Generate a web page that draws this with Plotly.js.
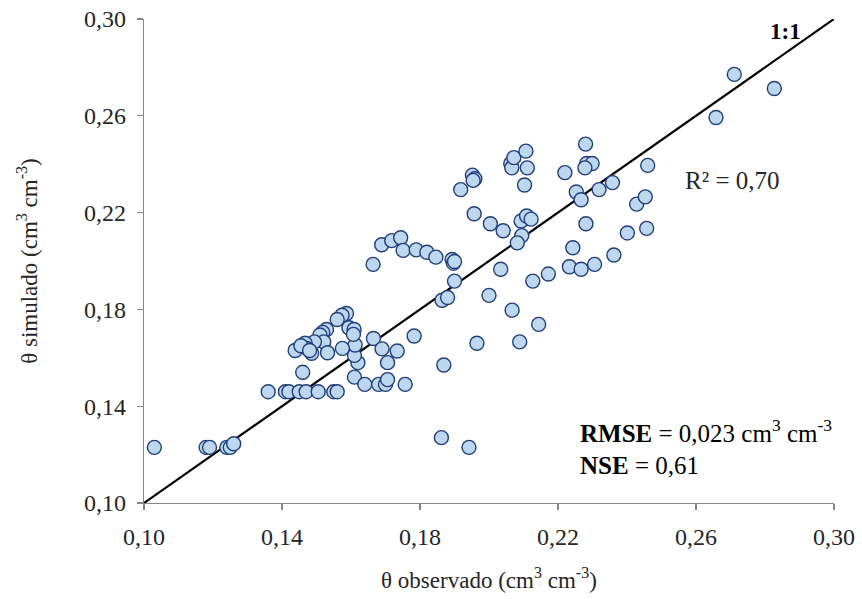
<!DOCTYPE html>
<html>
<head>
<meta charset="utf-8">
<script src="https://cdn.plot.ly/plotly-3.0.1.min.js"></script>
<style>html,body{margin:0;padding:0;background:#fff;}#chart{width:862px;height:599px;}</style>
</head>
<body>
<div id="chart"></div>
<script>
// Observed (x) and simulated (y) soil water content, cm3 cm-3
const observado = [
  0.103, 0.118, 0.119, 0.124, 0.125, 0.126,
  0.136, 0.141, 0.142, 0.145, 0.147, 0.1505, 0.155, 0.156,
  0.146, 0.161, 0.164, 0.168, 0.170, 0.1757, 0.1706,
  0.162, 0.1706, 0.161, 0.1869, 0.1862, 0.1942, 0.1965, 0.2089,
  0.1783, 0.1665, 0.169, 0.1734, 0.1612, 0.1575,
  0.1587, 0.1574, 0.1560, 0.1529, 0.1518, 0.1594, 0.1609, 0.1607, 0.1510,
  0.1521, 0.1494, 0.1467, 0.1472, 0.1438, 0.1486, 0.1532, 0.1455, 0.1480,
  0.1664, 0.1689, 0.1718, 0.1744, 0.1751, 0.1789, 0.1820, 0.1846, 0.1893, 0.1897, 0.1900,
  0.1900, 0.1864, 0.1880, 0.2000, 0.2067, 0.2144,
  0.1918, 0.1952, 0.1959, 0.1954,
  0.2063, 0.2066, 0.2072, 0.2107, 0.2111, 0.2103,
  0.1957, 0.2004, 0.2041, 0.2093, 0.2109, 0.2122, 0.2095, 0.2082,
  0.2034, 0.2127, 0.2172,
  0.2233, 0.2267, 0.2306, 0.2362, 0.2243,
  0.2281, 0.2401, 0.2428, 0.2453, 0.2457, 0.2460,
  0.2253, 0.2267, 0.2319, 0.2358,
  0.2220, 0.2280, 0.2283, 0.2299, 0.2278,
  0.2658, 0.2711, 0.2827
];
const simulado = [
  0.123, 0.123, 0.123, 0.123, 0.123, 0.1245,
  0.146, 0.146, 0.146, 0.146, 0.146, 0.146, 0.146, 0.146,
  0.154, 0.152, 0.149, 0.149, 0.149, 0.149, 0.151,
  0.158, 0.158, 0.161, 0.157, 0.127, 0.123, 0.166, 0.1666,
  0.169, 0.168, 0.1637, 0.1628, 0.1653, 0.1639,
  0.1783, 0.1776, 0.1758, 0.1717, 0.1705, 0.1724, 0.1717, 0.1697, 0.1694,
  0.1666, 0.1666, 0.1660, 0.1639, 0.1630, 0.1619, 0.1621, 0.1650, 0.1630,
  0.1986, 0.2067, 0.2084, 0.2096, 0.2044, 0.2046, 0.2036, 0.2016, 0.2006, 0.1991, 0.1998,
  0.1917, 0.1838, 0.1849, 0.1858, 0.1797, 0.1738,
  0.2295, 0.2355, 0.2340, 0.2333,
  0.2403, 0.2385, 0.2427, 0.2454, 0.2385, 0.2314,
  0.2195, 0.2154, 0.2125, 0.2165, 0.2186, 0.2173, 0.2105, 0.2075,
  0.1966, 0.1917, 0.1946,
  0.1976, 0.1966, 0.1986, 0.2025, 0.2055,
  0.2154, 0.2116, 0.2235, 0.2265, 0.2135, 0.2395,
  0.2285, 0.2253, 0.2295, 0.2324,
  0.2365, 0.2483, 0.2403, 0.2403, 0.2385,
  0.2593, 0.2771, 0.2713
];
const lineaUnoUno = [0.10, 0.30];
const tickVals = [0.10, 0.14, 0.18, 0.22, 0.26, 0.30];
const tickText = ['0,10', '0,14', '0,18', '0,22', '0,26', '0,30'];

const FONT = 'Liberation Serif, Times New Roman, serif';
const traces = [
  {x: lineaUnoUno, y: lineaUnoUno, mode: 'lines', type: 'scatter',
   line: {color: '#000000', width: 2.2}, hoverinfo: 'skip', showlegend: false},
  {x: observado, y: simulado, mode: 'markers', type: 'scatter',
   marker: {size: 14, color: '#bdd7ee', line: {color: '#1f3d7a', width: 1.4}},
   showlegend: false}
];
const axisCommon = {
  range: [0.10, 0.30], tickvals: tickVals, ticktext: tickText,
  showgrid: false, zeroline: false, showline: true, linecolor: '#868686', linewidth: 1.3,
  ticks: 'outside', ticklen: 6, tickcolor: '#868686', tickwidth: 1.3,
  ticklabelstandoff: 6,
  tickfont: {family: FONT, size: 24, color: '#262626'}
};
const layout = {
  width: 862, height: 599,
  margin: {l: 144, r: 28, t: 19, b: 96},
  paper_bgcolor: '#ffffff', plot_bgcolor: '#ffffff',
  font: {family: FONT, color: '#262626'},
  xaxis: Object.assign({}, axisCommon, {
    title: {text: 'θ observado (cm<sup>3</sup> cm<sup>-3</sup>)', font: {family: FONT, size: 23, color: '#262626'}, standoff: 22}
  }),
  yaxis: Object.assign({}, axisCommon, {
    title: {text: 'θ simulado (cm<sup>3</sup> cm<sup>-3</sup>)', font: {family: FONT, size: 23, color: '#262626'}, standoff: 40}
  }),
  annotations: [
    {x: 0.2858, y: 0.2947, xref: 'x', yref: 'y', text: '<b>1:1</b>', showarrow: false,
     xanchor: 'center', yanchor: 'middle', font: {family: FONT, size: 23, color: '#000'}},
    {x: 0.2562, y: 0.2331, xref: 'x', yref: 'y', text: 'R² = 0,70', showarrow: false,
     xanchor: 'left', yanchor: 'middle', font: {family: FONT, size: 25, color: '#262626'}},
    {x: 0.2258, y: 0.1296, xref: 'x', yref: 'y', text: '<b>RMSE</b> = 0,023 cm<sup>3</sup> cm<sup>-3</sup>', showarrow: false,
     xanchor: 'left', yanchor: 'middle', font: {family: FONT, size: 25, color: '#000'}},
    {x: 0.2258, y: 0.1156, xref: 'x', yref: 'y', text: '<b>NSE</b> = 0,61', showarrow: false,
     xanchor: 'left', yanchor: 'middle', font: {family: FONT, size: 25, color: '#000'}}
  ]
};
Plotly.newPlot('chart', traces, layout, {displayModeBar: false, staticPlot: true});
</script>
</body>
</html>
